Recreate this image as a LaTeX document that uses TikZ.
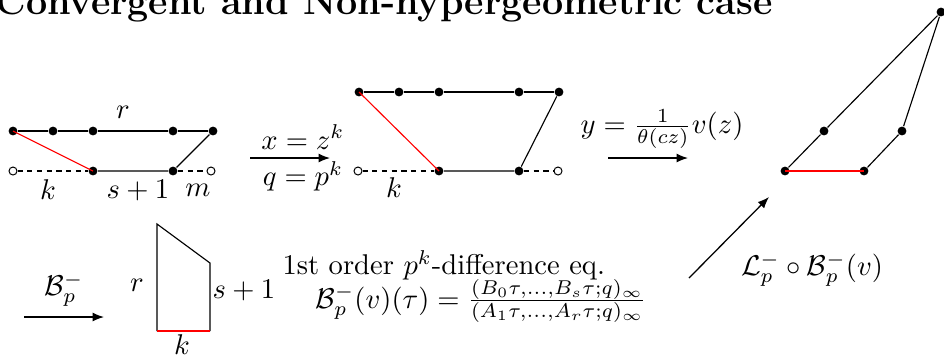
\documentclass[tikz,border=0pt]{standalone}
\usepackage{amsmath,amssymb}
\usetikzlibrary{arrows.meta,positioning}
\tikzset{
  pt/.style={circle, fill=black, inner sep=0pt, minimum size=3.1pt},
  hole/.style={circle, draw=black, fill=white, inner sep=0pt, minimum size=2.8pt, line width=0.35pt},
  seg/.style={line width=0.4pt, draw=black},
  redseg/.style={line width=0.4pt, draw=red},
  dashseg/.style={line width=0.4pt, draw=black, dash pattern=on 1.8pt off 1.6pt},
  maparrow/.style={-{Latex[length=1.4mm, width=1.1mm]}, line width=0.45pt, draw=black},
  lbl/.style={inner sep=0pt}
}
\begin{document}
\begin{tikzpicture}[x=0.35pt, y=-0.35pt]
  \useasboundingbox (0,0) rectangle (944,357);
  \node[anchor=base east, font=\fontsize{13.2}{15}\selectfont\bfseries, inner sep=0pt] (title) at (773,14) {Convergent and Non-hypergeometric case};

  % first polygon
  \node[pt] (a1) at (13,131) {};
  \node[pt] (a2) at (53,131) {};
  \node[pt] (a3) at (93,131) {};
  \node[pt] (a4) at (173,131) {};
  \node[pt] (a5) at (213,131) {};
  \node[hole] (b0) at (13,171) {};
  \node[pt] (b1) at (93,171) {};
  \node[pt] (b2) at (173,171) {};
  \node[hole] (b3) at (211,171) {};
  \draw[seg] (a1) -- (a2) -- (a3) -- (a4) -- (a5);
  \draw[seg] (b1) -- (b2) -- (a5);
  \draw[redseg] (a1.center) -- (b1.center);
  \draw[dashseg] (b0) -- (b1);
  \draw[dashseg] (b2) -- (b3);
  \node[lbl] (ar) at (123,112) {$r$};
  \node[lbl] (ak) at (48,190) {$k$};
  \node[lbl] (as) at (138,190) {$s+1$};
  \node[lbl] (am) at (198,190) {$m$};

  % first map
  \coordinate (m1s) at (250,158);
  \coordinate (m1e) at (330,158);
  \draw[maparrow] (m1s) -- (m1e);
  \node[lbl] (m1up) at (303,137) {$x=z^k$};
  \node[lbl] (m1dn) at (303,176) {$q=p^k$};

  % second polygon
  \node[pt] (c1) at (359,92) {};
  \node[pt] (c2) at (399,92) {};
  \node[pt] (c3) at (439,92) {};
  \node[pt] (c4) at (519,92) {};
  \node[pt] (c5) at (559,92) {};
  \node[hole] (d0) at (358,171) {};
  \node[pt] (d1) at (439,171) {};
  \node[pt] (d2) at (519,171) {};
  \node[hole] (d3) at (558,171) {};
  \draw[seg] (c1) -- (c2) -- (c3) -- (c4) -- (c5);
  \draw[seg] (d1) -- (d2) -- (c5);
  \draw[redseg] (c1.center) -- (d1.center);
  \draw[dashseg] (d0) -- (d1);
  \draw[dashseg] (d2) -- (d3);
  \node[lbl] (ck) at (394,188) {$k$};

  % second map
  \coordinate (m2s) at (608,158);
  \coordinate (m2e) at (688,158);
  \draw[maparrow] (m2s) -- (m2e);
  \node[lbl] (m2up) at (662,129) {$y=\frac{1}{\theta(cz)}v(z)$};

  % third polygon
  \node[pt] (e1) at (785,171) {};
  \node[pt] (e2) at (864,171) {};
  \node[pt] (e3) at (824,131) {};
  \node[pt] (e4) at (902,131) {};
  \node[pt] (e5) at (941,12) {};
  \draw[seg] (e1) -- (e3) -- (e5);
  \draw[seg] (e2) -- (e4) -- (e5);
  \draw[redseg] (e1.center) -- (e2.center);

  % back map
  \coordinate (m3s) at (689,278);
  \coordinate (m3e) at (769,197);
  \draw[maparrow] (m3s) -- (m3e);
  \node[lbl] (m3lbl) at (812,270) {$\mathcal{L}_p^-\circ\mathcal{B}_p^-(v)$};

  % Borel map
  \coordinate (m4s) at (24,317);
  \coordinate (m4e) at (104,317);
  \draw[maparrow] (m4s) -- (m4e);
  \node[lbl] (m4up) at (64,290) {$\mathcal{B}_p^-$};

  % Newton polygon
  \coordinate (n1) at (157,224);
  \coordinate (n2) at (157,331);
  \coordinate (n3) at (210,331);
  \coordinate (n4) at (210,263);
  \draw[seg] (n3) -- (n4) -- (n1) -- (n2);
  \draw[draw=red, line width=0.85pt] (n2) -- (n3);
  \node[lbl] (nr) at (137,285) {$r$};
  \node[lbl, anchor=west] (ns) at (212,290) {$s+1$};
  \node[lbl] (nk) at (182,345) {$k$};

  \node[lbl, anchor=west] (eq) at (282,265) {1st order $p^k$-difference eq.};
  \node[lbl, anchor=west] (sol) at (315,301) {$\mathcal{B}_p^-(v)(\tau)=\frac{(B_0\tau,\ldots,B_s\tau;q)_\infty}{(A_1\tau,\ldots,A_r\tau;q)_\infty}$};
\end{tikzpicture}
\end{document}
